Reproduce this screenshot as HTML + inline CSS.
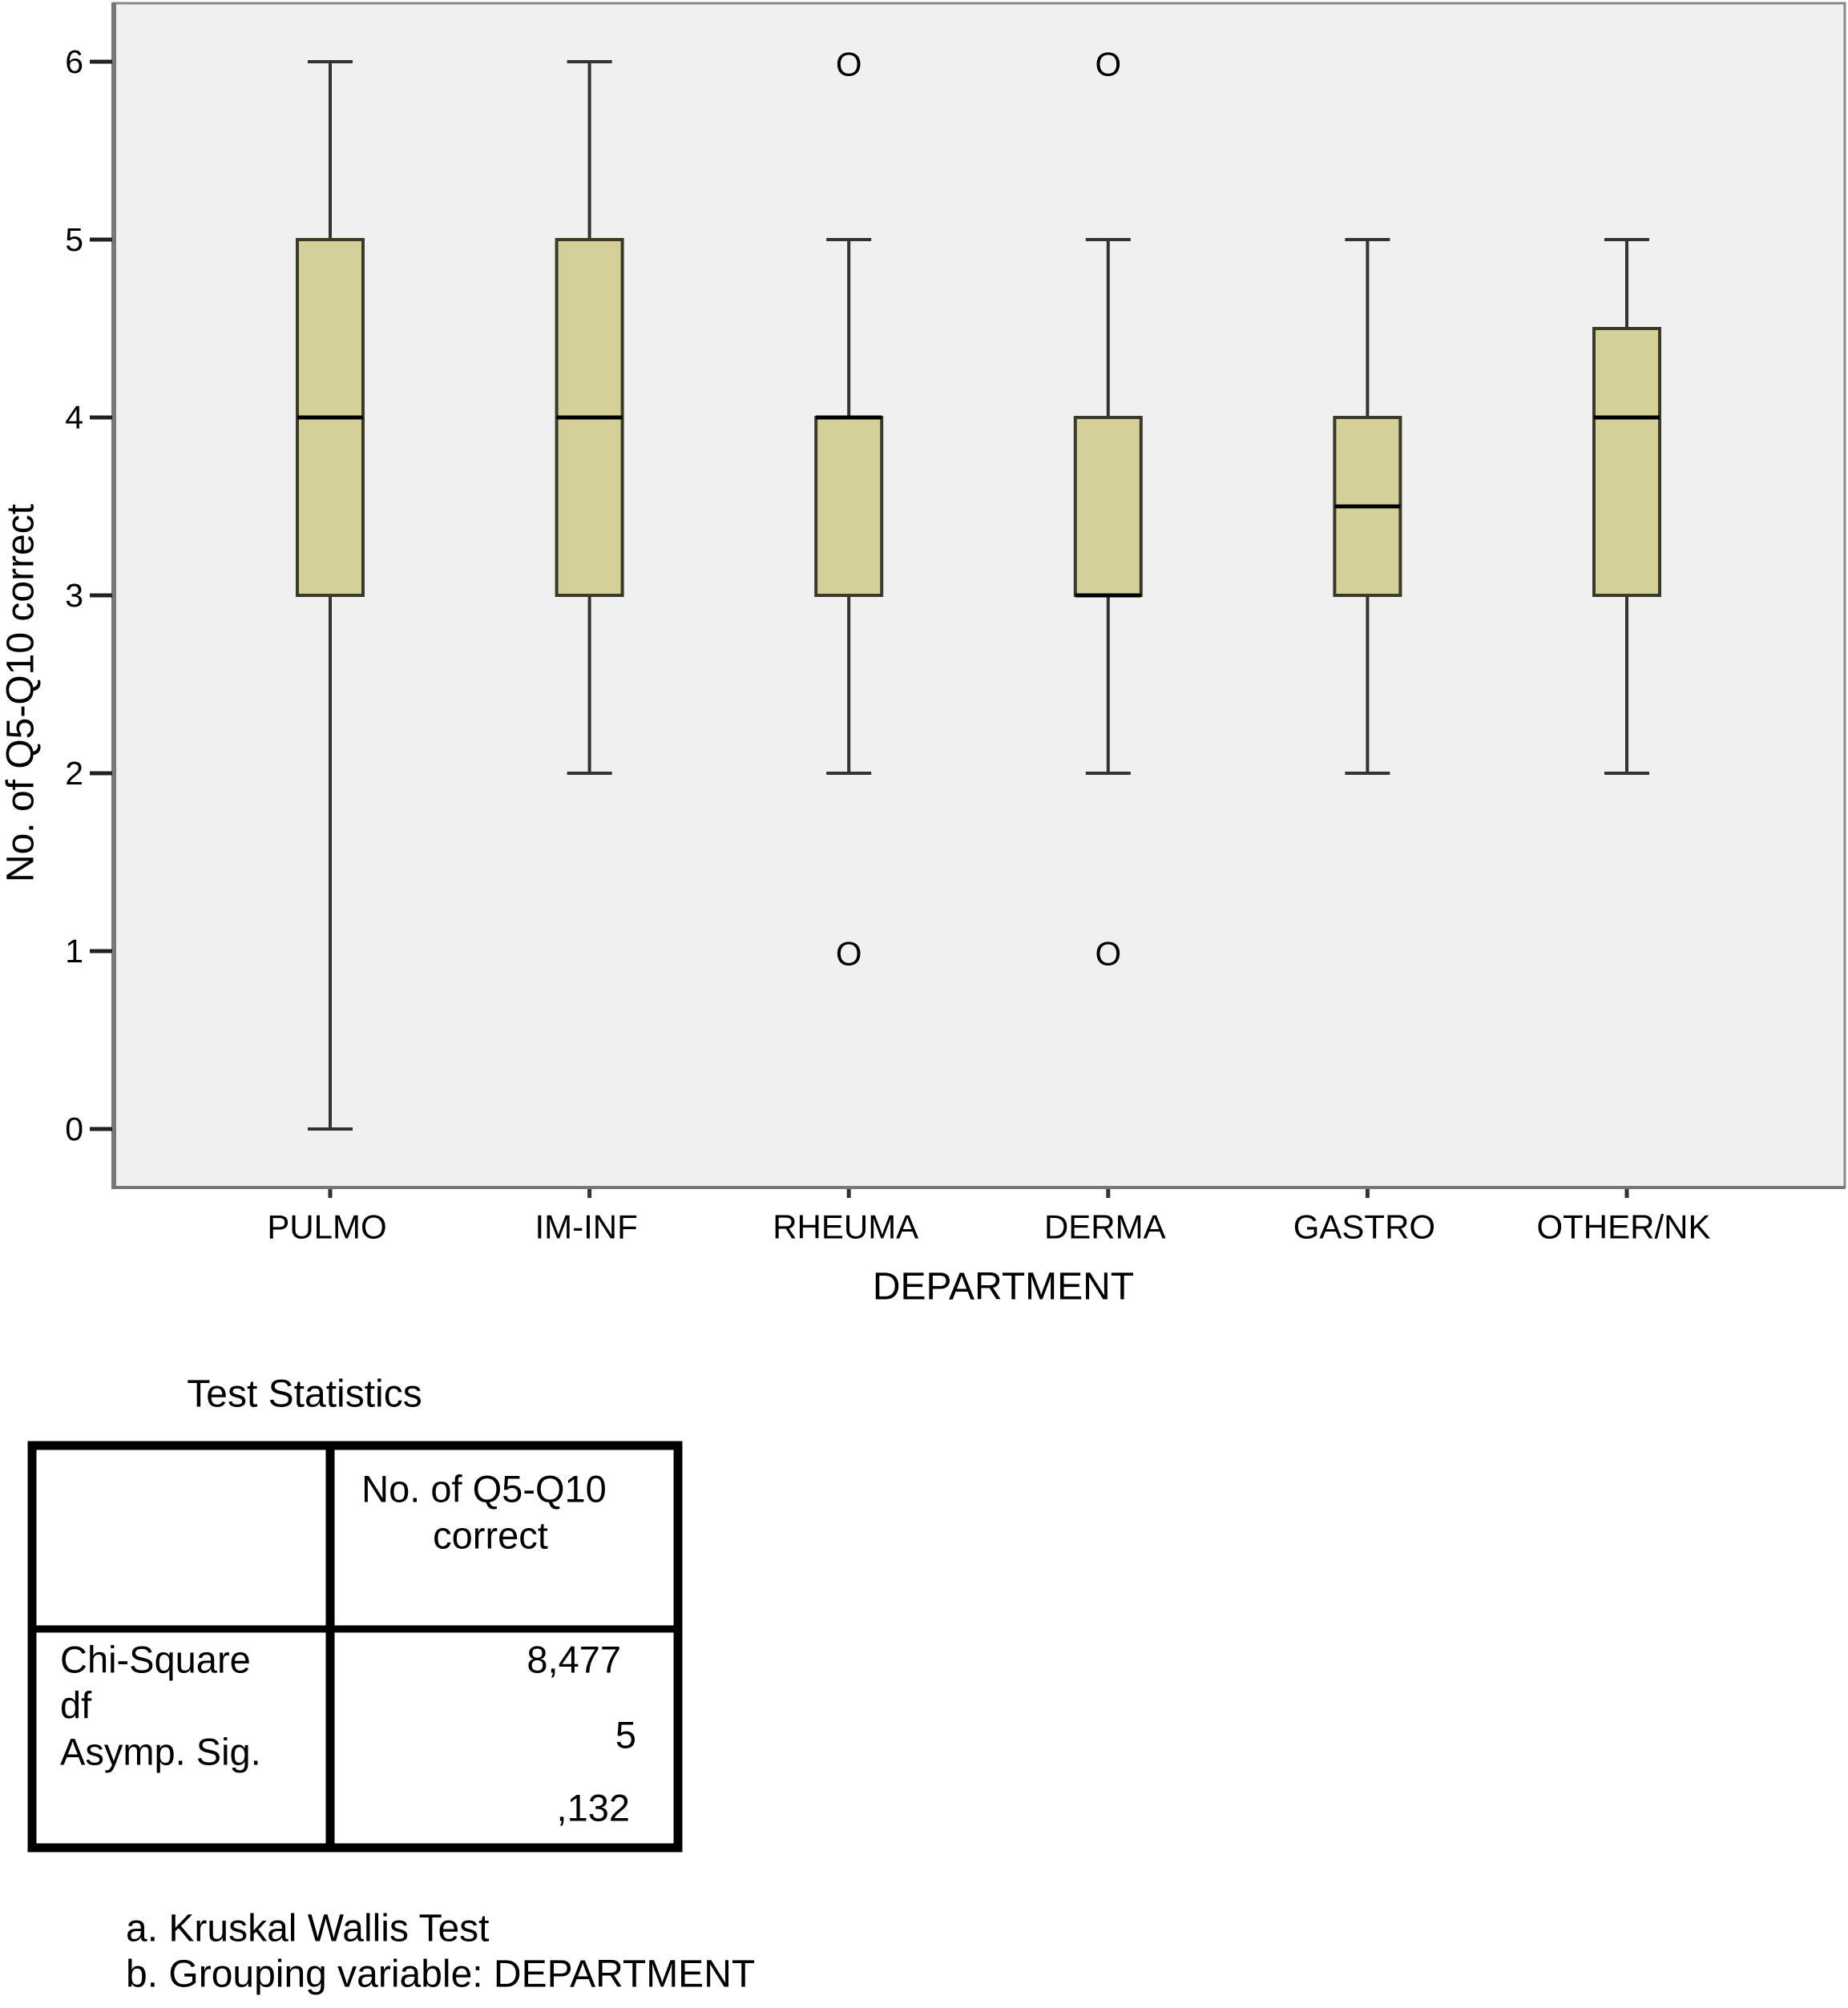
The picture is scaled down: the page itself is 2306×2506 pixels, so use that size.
<!DOCTYPE html>
<html><head><meta charset="utf-8">
<style>
html,body{margin:0;padding:0;background:#fff;}
svg{display:block;}
text{font-family:"Liberation Sans",sans-serif;fill:#000;}
</style></head>
<body>
<svg id="chart" width="2306" height="2506" viewBox="0 0 2306 2506" xmlns="http://www.w3.org/2000/svg">
  <rect x="142" y="4" width="2160" height="1478" fill="#f0f0f0" stroke="#888" stroke-width="3"/>
  <line x1="142" y1="3" x2="142" y2="1484" stroke="#777" stroke-width="6"/>
  <line x1="139" y1="1482" x2="2302" y2="1482" stroke="#777" stroke-width="4"/>
  <g id="yticks"></g>
  <g id="xticks"></g>
  <g id="boxes"></g>
  <text x="1252" y="1606" font-size="48" text-anchor="middle" dominant-baseline="central">DEPARTMENT</text>
  <text x="26" y="865" font-size="48" text-anchor="middle" dominant-baseline="central" transform="rotate(-90 26 865)">No. of Q5-Q10 correct</text>

  <g>
    <text x="380" y="1740" font-size="48" text-anchor="middle" dominant-baseline="central">Test Statistics</text>
    <rect x="40" y="1804" width="806" height="502" fill="#fff" stroke="#000" stroke-width="11"/>
    <line x1="412" y1="1804" x2="412" y2="2306" stroke="#000" stroke-width="11"/>
    <line x1="40" y1="2033" x2="846" y2="2033" stroke="#000" stroke-width="9"/>
    <text x="604" y="1858" font-size="47" text-anchor="middle" dominant-baseline="central">No. of Q5-Q10</text>
    <text x="612" y="1916" font-size="47" text-anchor="middle" dominant-baseline="central">correct</text>
    <text x="75" y="2071" font-size="47" dominant-baseline="central">Chi-Square</text>
    <text x="75" y="2128" font-size="47" dominant-baseline="central">df</text>
    <text x="75" y="2186" font-size="47" dominant-baseline="central">Asymp. Sig.</text>
    <text x="775" y="2071" font-size="47" text-anchor="end" dominant-baseline="central">8,477</text>
    <text x="794" y="2165" font-size="47" text-anchor="end" dominant-baseline="central">5</text>
    <text x="786" y="2256" font-size="47" text-anchor="end" dominant-baseline="central">,132</text>
  </g>
  <text x="157" y="2407" font-size="48" dominant-baseline="central">a. Kruskal Wallis Test</text>
  <text x="157" y="2464" font-size="48" dominant-baseline="central">b. Grouping variable: DEPARTMENT</text>
</svg>
<script>
const categories = ["PULMO","IM-INF","RHEUMA","DERMA","GASTRO","OTHER/NK"];
const mins = [0,2,2,2,2,2];
const q1s = [3,3,3,3,3,3];
const medians = [4,4,4,3,3.5,4];
const q3s = [5,5,4,4,4,4.5];
const maxs = [6,6,5,5,5,5];
const outliers = [[],[],[6,1],[6,1],[],[]];
const yTicks = [0,1,2,3,4,5,6];

const NS = "http://www.w3.org/2000/svg";
function yScale(v){ return 1409 - v * 222; }
function xScale(i){ return 412 + i * 323.6; }
function mk(tag, attrs, parent){
  const e = document.createElementNS(NS, tag);
  for (const k in attrs) e.setAttribute(k, attrs[k]);
  parent.appendChild(e);
  return e;
}
const yt = document.getElementById('yticks');
yTicks.forEach(t => {
  const y = yScale(t);
  const l = mk('line', {x1:112, y1:y, x2:140, y2:y, stroke:'#222', 'stroke-width':5}, yt);
  
  
  const tx = mk('text', {x:104, y:y, 'font-size':41, 'text-anchor':'end', 'dominant-baseline':'central'}, yt);
  tx.textContent = t;
  
  
});
const xt = document.getElementById('xticks');
categories.forEach((c, i) => {
  const x = xScale(i);
  const l = mk('line', {x1:x, y1:1484, x2:x, y2:1495, stroke:'#333', 'stroke-width':5}, xt);
  
  
  const tx = mk('text', {x:x-4, y:1531, 'font-size':42, 'text-anchor':'middle', 'dominant-baseline':'central'}, xt);
  tx.textContent = c;
  
  
});
const bx = document.getElementById('boxes');
const bw = 82, cw = 56;
categories.forEach((c, i) => {
  const x = xScale(i);
  const g = mk('g', {}, bx);
  
  
  const w = mk('line', {x1:x, y1:yScale(maxs[i]), x2:x, y2:yScale(mins[i]), stroke:'#333', 'stroke-width':4}, g);
  
  
  [maxs[i], mins[i]].forEach(v => {
    const cap = mk('line', {x1:x-cw/2, y1:yScale(v), x2:x+cw/2, y2:yScale(v), stroke:'#333', 'stroke-width':4}, g);
    
    
  });
  const r = mk('rect', {x:x-bw/2, y:yScale(q3s[i]), width:bw, height:yScale(q1s[i])-yScale(q3s[i]), fill:'#d5d09a', stroke:'#3a3a2a', 'stroke-width':4}, g);
  
  
  const m = mk('line', {x1:x-bw/2, y1:yScale(medians[i]), x2:x+bw/2, y2:yScale(medians[i]), stroke:'#000', 'stroke-width':5}, g);
  
  
  outliers[i].forEach(v => {
    const o = mk('text', {x:x, y:yScale(v)+3, 'font-size':42, 'text-anchor':'middle', 'dominant-baseline':'central'}, g);
    o.textContent = 'O';
    
    
  });
});
</script>
</body></html>
